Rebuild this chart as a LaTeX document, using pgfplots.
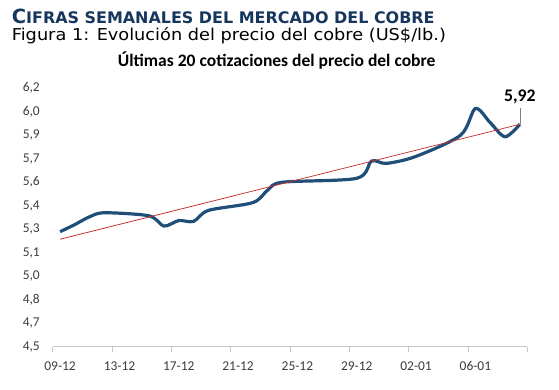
\documentclass[border=0pt]{standalone}
\usepackage{pgfplots}
\pgfplotsset{compat=1.18}
\usepackage{fontspec}
\setmainfont{Carlito}
\newfontfamily\dejavu{DejaVu Sans}
\newfontfamily\dejavuwide[FakeStretch=1.085]{DejaVu Sans}
\definecolor{navy}{RGB}{23,54,93}
\definecolor{cuBlue}{RGB}{31,78,121}
\definecolor{trend}{RGB}{205,45,45}
\definecolor{axgray}{RGB}{200,200,200}
\definecolor{lblgray}{RGB}{60,60,60}
\pgfplotstableread{
day price
0 5.234
1 5.28
2 5.33
3 5.355
6 5.335
7 5.27
8 5.305
9 5.30
10 5.37
13 5.42
14 5.50
15 5.55
20 5.575
21 5.685
22 5.67
24 5.715
27 5.85
28 6.02
29 5.93
30 5.84
31 5.92
}\cobre
\begin{document}
\begin{tikzpicture}[x=1bp,y=1bp]
\path[use as bounding box] (0,0) rectangle (559,389);
\node[anchor=base west, inner sep=0pt, text=navy] at (11.7,365.7) {\dejavu\bfseries\fontsize{19.6}{20}\selectfont C\fontsize{16.0}{18}\selectfont IFRAS SEMANALES DEL MERCADO DEL COBRE};
\node[anchor=base west, inner sep=0pt] at (11.7,349) {\dejavuwide\fontsize{16.4}{19}\selectfont Figura 1: Evolución del precio del cobre (US\$/lb.)};
\node[anchor=base, inner sep=0pt] at (276.7,322.3) {\bfseries\fontsize{17.6}{20}\selectfont Últimas 20 cotizaciones del precio del cobre};
\begin{axis}[
 at={(52.7bp,42.3bp)}, anchor=south west,
 scale only axis, width=474.6bp, height=258.5bp,
 xmin=-0.5, xmax=31.5, ymin=4.5, ymax=6.15,
 separate axis lines,
 axis x line*=bottom, axis y line*=left,
 y axis line style={draw=none},
 x axis line style={axgray, line width=0.8bp},
 tick align=outside,
 major tick length=0pt,
 minor tick length=5bp,
 xtick={0,4,...,28},
 xticklabels={09-12,13-12,17-12,21-12,25-12,29-12,02-01,06-01},
 minor xtick={-0.5,3.5,...,31.5},
 minor x tick style={axgray, line width=0.8bp},
 major tick style={draw=none},
 ytick={4.5,4.65,4.8,4.95,5.1,5.25,5.4,5.55,5.7,5.85,6.0,6.15},
 yticklabels={{4,5},{4,7},{4,8},{5,0},{5,1},{5,3},{5,4},{5,6},{5,7},{5,9},{6,0},{6,2}},
 tick label style={font=\fontsize{13.5}{16}\selectfont, text=lblgray, inner sep=0pt},
 yticklabel style={anchor=east, xshift=-12.7bp},
 xticklabel style={anchor=center, yshift=-19bp},
 clip=false,
]
\addplot[cuBlue, line width=3.2bp, smooth, tension=0.5] table[x=day, y=price] {\cobre};
\addplot[trend, line width=0.75bp] coordinates {(0,5.186) (31,5.92)};
\draw[gray, line width=0.6bp] (axis cs:31,5.92) -- ([yshift=16bp]axis cs:31,5.92);
\node[anchor=base, inner sep=0pt, font=\bfseries\fontsize{17.8}{20}\selectfont, yshift=22.6bp] at (axis cs:31,5.92) {5,92};
\end{axis}
\end{tikzpicture}
\end{document}
